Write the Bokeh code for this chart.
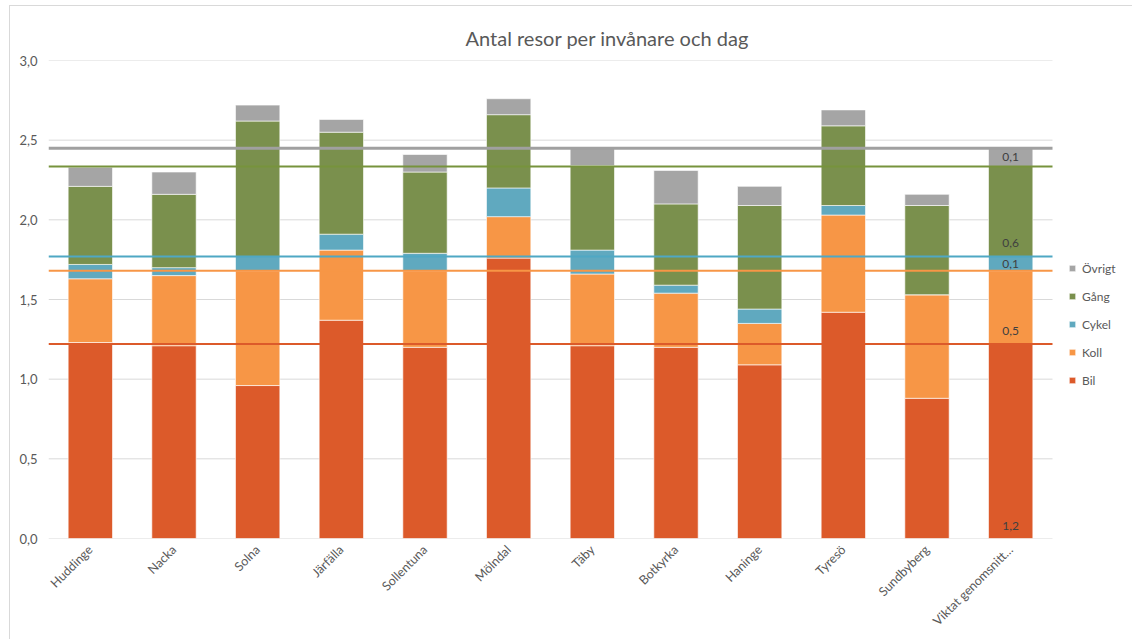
import numpy as np
from bokeh.plotting import figure
from bokeh.models import (Range1d, Legend, LegendItem, FixedTicker,
                          CustomJSTickFormatter, ColumnDataSource)
from bokeh.core.properties import value
from bokeh.embed import file_html
from bokeh.resources import INLINE

# Trips per inhabitant and day, by travel mode
kommuner = ["Huddinge", "Nacka", "Solna", "Järfälla", "Sollentuna", "Mölndal",
            "Täby", "Botkyrka", "Haninge", "Tyresö", "Sundbyberg", "Viktat genomsnitt…"]
bil = [1.23, 1.21, 0.96, 1.37, 1.20, 1.76, 1.21, 1.20, 1.09, 1.42, 0.88, 1.22]
koll = [0.40, 0.44, 0.72, 0.44, 0.48, 0.26, 0.45, 0.34, 0.26, 0.61, 0.65, 0.46]
cykel = [0.09, 0.05, 0.09, 0.10, 0.11, 0.18, 0.15, 0.05, 0.09, 0.06, 0.00, 0.09]
gang = [0.49, 0.46, 0.85, 0.64, 0.51, 0.46, 0.53, 0.51, 0.65, 0.50, 0.56, 0.565]
ovrigt = [0.12, 0.14, 0.10, 0.08, 0.11, 0.10, 0.11, 0.21, 0.12, 0.10, 0.07, 0.115]

modes = ["Bil", "Koll", "Cykel", "Gång", "Övrigt"]
colors = ["#DC5A2A", "#F79646", "#60A9BF", "#7A904D", "#A5A5A5"]
line_colors = ["#DC5A2A", "#F79646", "#4FA8C4", "#77933C", "#A0A0A0"]
y_ticks = [0.0, 0.5, 1.0, 1.5, 2.0, 2.5, 3.0]

FONT = "Lato"
TXT = "#595959"

n = len(kommuner)
xpos = np.arange(n)
source = ColumnDataSource(dict(x=xpos, Bil=bil, Koll=koll, Cykel=cykel,
                               Gång=gang, Övrigt=ovrigt))

W, H = 1123, 634
LEFT, TOP, BOTTOM = 38, 54, 102
PLOT_W = 1004                      # width taken by the twelve category slots
slot = PLOT_W / n
x_end = -0.5 + (W - LEFT) / slot   # frame runs on to the right edge for the legend

p = figure(x_range=Range1d(-0.5, x_end), y_range=Range1d(0, 3),
           width=W, height=H, output_backend="svg", toolbar_location=None,
           min_border_left=LEFT, min_border_right=0,
           min_border_top=TOP, min_border_bottom=BOTTOM,
           title="Antal resor per invånare och dag")
p.margin = (5, 0, 0, 9)
p.styles = {"border-left": "1px solid #d9d9d9", "border-top": "1px solid #d9d9d9"}
p.outline_line_color = None
p.background_fill_color = "white"
p.border_fill_color = "white"
p.grid.visible = False

p.title.align = "left"
p.title.offset = 417
p.title.standoff = 22
p.title.text_font = FONT
p.title.text_font_size = "20px"
p.title.text_font_style = "normal"
p.title.text_color = TXT

# Horizontal gridlines over the category area only
p.segment(x0=-0.5, x1=n - 0.5, y0=y_ticks, y1=y_ticks,
          line_color="#D9D9D9", line_width=1, level="underlay")

renderers = p.vbar_stack(modes, x="x", width=0.53, source=source,
                         fill_color=colors, line_color="white", line_alpha=0.6,
                         line_width=1)

# Reference lines at the cumulative levels of the weighted average
avg = [bil[-1], koll[-1], cykel[-1], gang[-1], ovrigt[-1]]
cum = np.cumsum(avg)
p.segment(x0=-0.5, x1=n - 0.5, y0=cum, y1=cum, line_color=line_colors,
          line_width=[2, 2, 2, 2, 3])

# Value labels on the weighted-average bar
px_per_unit = (H - TOP - BOTTOM) / 3.0
bottoms = np.concatenate([[0.0], cum[:-1]])
lab_y = [b + min(13.0, v * px_per_unit / 2) / px_per_unit for b, v in zip(bottoms, avg)]
lab_txt = [f"{v:.1f}".replace(".", ",") for v in avg]
p.text(x=[xpos[-1]] * len(avg), y=lab_y, text=lab_txt,
       text_align="center", text_baseline="middle", text_font=value(FONT),
       text_font_size="12px", text_color="#404040")

# Axes
p.yaxis.ticker = FixedTicker(ticks=y_ticks)
p.yaxis.formatter = CustomJSTickFormatter(code="return tick.toFixed(1).replace('.', ',');")
p.xaxis.ticker = FixedTicker(ticks=list(xpos))
p.xaxis.major_label_overrides = {int(i): k for i, k in zip(xpos, kommuner)}
for ax in (p.xaxis, p.yaxis):
    ax.axis_line_color = None
    ax.major_tick_line_color = None
    ax.minor_tick_line_color = None
    ax.major_tick_out = 0
    ax.major_tick_in = 0
    ax.minor_tick_out = 0
    ax.major_label_text_font = FONT
    ax.major_label_text_color = TXT
p.yaxis.major_label_text_font_size = "13px"
p.xaxis.major_label_text_font_size = "12.5px"
p.yaxis.major_label_standoff = 11
p.xaxis.major_label_orientation = np.pi / 4
p.xaxis.major_label_standoff = 9

# Legend to the right of the bars, top entry first
items = [LegendItem(label=m, renderers=[r]) for m, r in zip(modes, renderers)][::-1]
legend = Legend(items=items, location=(1068 - 48, 538 - 390), padding=0, margin=0,
                glyph_width=8, glyph_height=8, label_height=20, spacing=8,
                label_standoff=6, label_text_font=FONT, label_text_font_size="12px",
                label_text_color=TXT, border_line_color=None,
                background_fill_alpha=0)
p.add_layout(legend)

open("out.html", "w").write(file_html(p, INLINE))
